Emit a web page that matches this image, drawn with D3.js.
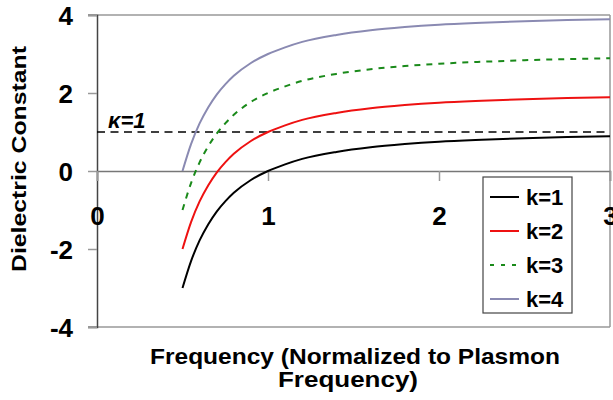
<!DOCTYPE html>
<html>
<head>
<meta charset="utf-8">
<script src="https://cdn.jsdelivr.net/npm/d3@7"></script>
<style>
  body { margin: 0; background: #fff; }
  svg text { font-family: "Liberation Sans", Arial, sans-serif; font-weight: bold; }
</style>
</head>
<body>
<svg id="chart" width="613" height="400"></svg>
<script>
// frequency points (normalized to plasmon frequency)
var freq = [0.5, 0.55, 0.6, 0.65, 0.7, 0.75, 0.8, 0.9, 1.0, 1.1, 1.2, 1.4, 1.6, 1.8, 2.0, 2.25, 2.5, 2.75, 3.0];

// dielectric constant
var k1 = [-3.0, -2.31, -1.78, -1.37, -1.04, -0.78, -0.56, -0.23, 0.0, 0.17, 0.31, 0.49, 0.61, 0.69, 0.75, 0.80, 0.84, 0.87, 0.89];
var k2 = [-2.0, -1.31, -0.78, -0.37, -0.04, 0.22, 0.44, 0.77, 1.0, 1.17, 1.31, 1.49, 1.61, 1.69, 1.75, 1.80, 1.84, 1.87, 1.89];
var k3 = [-1.0, -0.31, 0.22, 0.63, 0.96, 1.22, 1.44, 1.77, 2.0, 2.17, 2.31, 2.49, 2.61, 2.69, 2.75, 2.80, 2.84, 2.87, 2.89];
var k4 = [0.0, 0.69, 1.22, 1.63, 1.96, 2.22, 2.44, 2.77, 3.0, 3.17, 3.31, 3.49, 3.61, 3.69, 3.75, 3.80, 3.84, 3.87, 3.89];

var seriesNames = ["k=1", "k=2", "k=3", "k=4"];
var xTicks = [0, 1, 2, 3];
var yTicks = [-4, -2, 0, 2, 4];
var refLevel = 1;

var series = [
    {name: seriesNames[0], values: k1, color: "#000000", dash: null},
    {name: seriesNames[1], values: k2, color: "#ee1111", dash: null},
    {name: seriesNames[2], values: k3, color: "#1a8a1a", dash: "6,6"},
    {name: seriesNames[3], values: k4, color: "#8a8ab2", dash: null}
];

var svg = d3.select("#chart");

var x = d3.scaleLinear().domain([0, 3]).range([97, 610]);
var y = d3.scaleLinear().domain([-4, 4]).range([327, 15]);

// plain hyphen for negatives, like the original
var fmt = function (d) { return String(d); };

// plot frame (top, right, bottom in grey)
svg.append("line").attr("x1", 88).attr("x2", x(3)).attr("y1", y(4)).attr("y2", y(4))
    .style("stroke", "#999").style("stroke-width", 1.5);
svg.append("line").attr("x1", 88).attr("x2", x(3)).attr("y1", y(-4)).attr("y2", y(-4))
    .style("stroke", "#999").style("stroke-width", 1.5);
svg.append("line").attr("x1", x(3)).attr("x2", x(3)).attr("y1", y(4)).attr("y2", y(-4))
    .style("stroke", "#999").style("stroke-width", 1.5);

// y axis
var yAxis = svg.append("g").attr("transform", "translate(" + x(0) + ",0)")
    .call(d3.axisLeft(y).tickValues(yTicks).tickSize(9).tickPadding(15).tickFormat(fmt));
yAxis.select(".domain").style("stroke", "#444").style("stroke-width", 1.5);
yAxis.selectAll(".tick line").style("stroke", "#999").style("stroke-width", 1.5);
yAxis.selectAll("text").style("font-size", "26px").style("font-family", "Liberation Sans, Arial, sans-serif")
    .style("font-weight", "bold").attr("fill", "#000").attr("dy", "0.36em");

// x axis at zero
var xAxis = svg.append("g").attr("transform", "translate(0," + y(0) + ")")
    .call(d3.axisBottom(x).tickValues(xTicks).tickSize(10).tickPadding(26).tickFormat(fmt));
xAxis.select(".domain").style("stroke", "#777").style("stroke-width", 1.5);
xAxis.selectAll(".tick line").style("stroke", "#999").style("stroke-width", 1.5);
xAxis.selectAll("text").style("font-size", "26px").style("font-family", "Liberation Sans, Arial, sans-serif")
    .style("font-weight", "bold").attr("fill", "#000");

// kappa = 1 reference line
svg.append("line")
    .attr("x1", x(0)).attr("x2", x(3)).attr("y1", y(refLevel)).attr("y2", y(refLevel))
    .style("stroke", "#000").style("stroke-width", 1.5).style("stroke-dasharray", "8,5.5");

svg.append("text").attr("x", 108).attr("y", 128)
    .style("font-size", "22px").style("font-style", "italic")
    .text("\u03ba=1");

// curves
var line = d3.line()
    .x(function (d, i) { return x(freq[i]); })
    .y(function (d) { return y(d); })
    .curve(d3.curveMonotoneX);

svg.selectAll(".curve").data(series).enter().append("path")
    .attr("class", "curve")
    .attr("d", function (s) { return line(s.values); })
    .style("fill", "none")
    .style("stroke", function (s) { return s.color; })
    .style("stroke-width", 2)
    .style("stroke-dasharray", function (s) { return s.dash; });

// axis titles
svg.append("text")
    .attr("transform", "translate(26,159) rotate(-90)")
    .attr("text-anchor", "middle")
    .attr("textLength", 226).attr("lengthAdjust", "spacingAndGlyphs")
    .style("font-size", "21px")
    .text("Dielectric Constant");

svg.append("text").attr("x", 355).attr("y", 364)
    .attr("text-anchor", "middle")
    .attr("textLength", 410).attr("lengthAdjust", "spacingAndGlyphs")
    .style("font-size", "22px")
    .text("Frequency (Normalized to Plasmon");
svg.append("text").attr("x", 348).attr("y", 387)
    .attr("text-anchor", "middle")
    .attr("textLength", 140).attr("lengthAdjust", "spacingAndGlyphs")
    .style("font-size", "22px")
    .text("Frequency)");

// legend
var legend = svg.append("g").attr("transform", "translate(483,177)");
legend.append("rect").attr("width", 89).attr("height", 136)
    .style("fill", "#fff").style("stroke", "#444").style("stroke-width", 1.2);

var items = legend.selectAll(".item").data(series).enter().append("g")
    .attr("class", "item")
    .attr("transform", function (s, i) { return "translate(0," + (20 + i * 34) + ")"; });
items.append("line").attr("x1", 7).attr("x2", 36).attr("y1", 0).attr("y2", 0)
    .style("stroke", function (s) { return s.color; })
    .style("stroke-width", 2)
    .style("stroke-dasharray", function (s) { return s.dash ? "4,7" : null; });
items.append("text").attr("x", 43).attr("y", 8)
    .style("font-size", "22px")
    .text(function (s) { return s.name; });
</script>
</body>
</html>
